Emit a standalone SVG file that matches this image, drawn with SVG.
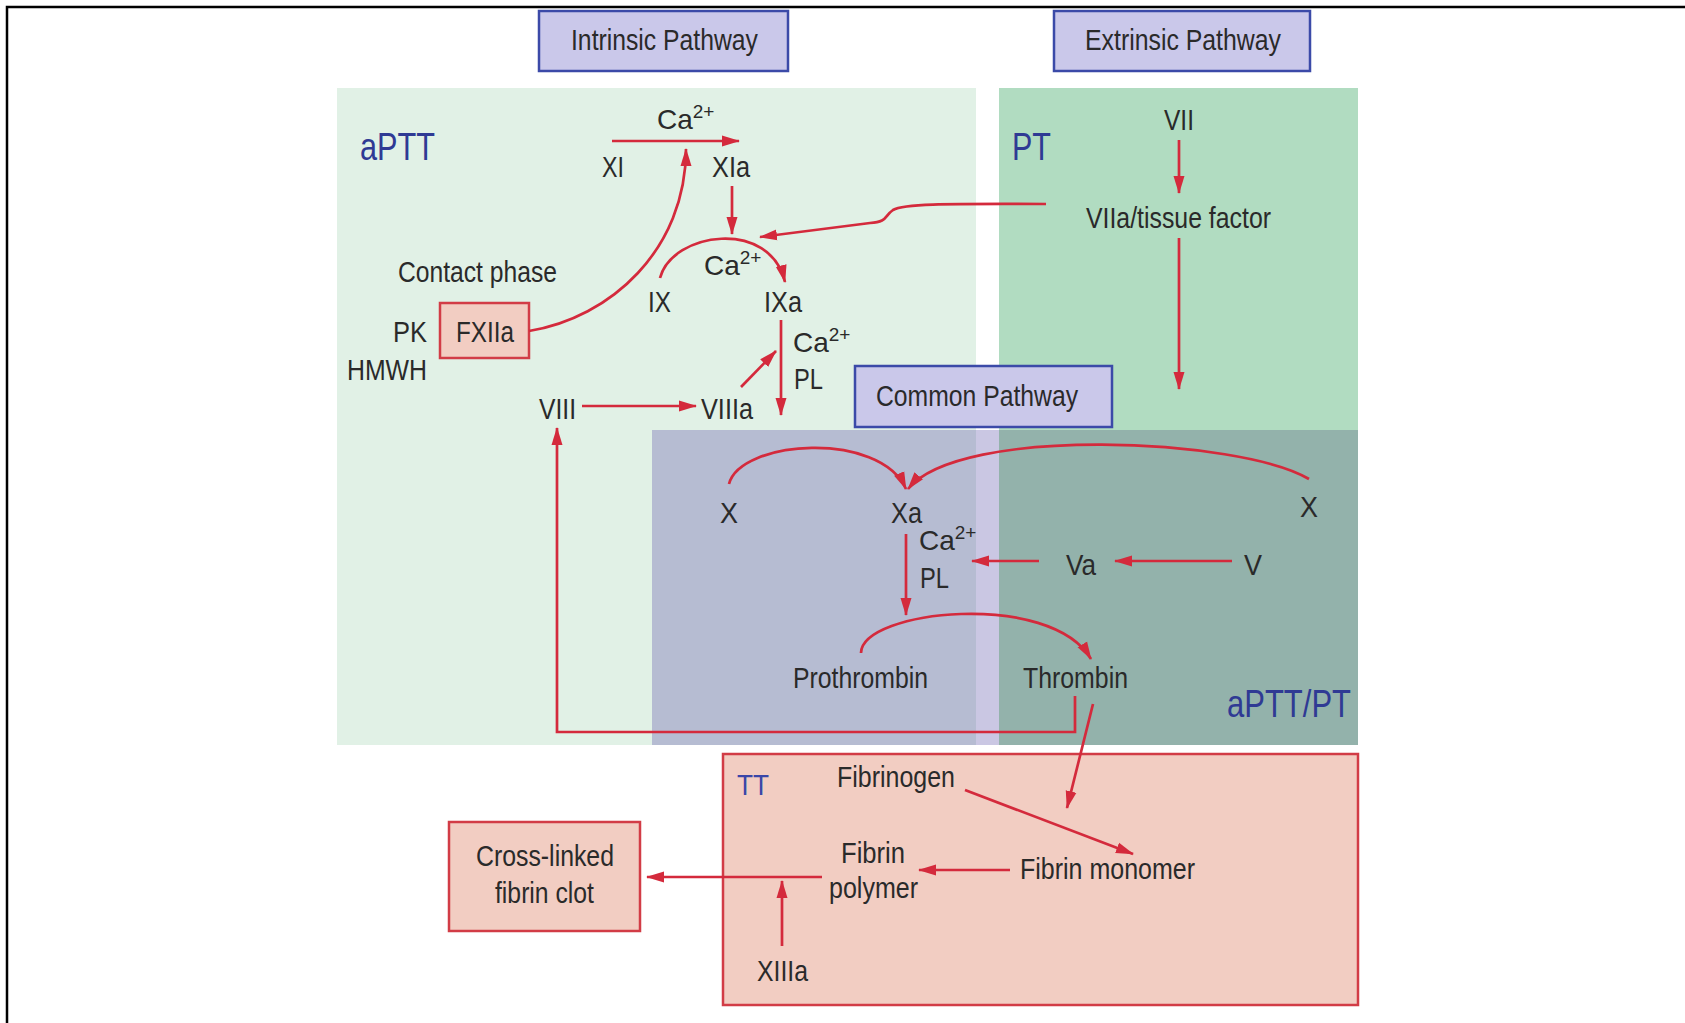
<svg xmlns="http://www.w3.org/2000/svg" width="1685" height="1023" viewBox="0 0 1685 1023">
<defs>
<marker id="ah" markerUnits="userSpaceOnUse" markerWidth="18" markerHeight="12" refX="17" refY="6" orient="auto">
<path d="M0,0.5 L18,6 L0,11.5 z" fill="#d42a3c"/>
</marker>
<style>
text{font-family:"Liberation Sans",Arial,sans-serif;font-size:30px;fill:#2a2a2a}
.ca{font-size:28px}
.blue{fill:#2f3a94;font-size:38px}
.tt{fill:#3a46a8;font-size:29px}
.sup{font-size:19px}
.path{fill:#cac8ea;stroke:#3b4aa8;stroke-width:2.5}
.pink{fill:#f2cdc2;stroke:#d23c46;stroke-width:2.5}
.con path{fill:none;stroke:#d42a3c;stroke-width:2.7;marker-end:url(#ah)}
</style>
</defs>
<rect width="1685" height="1023" fill="#fff"/>
<path d="M7,1023 L7,7 L1685,7" fill="none" stroke="#000" stroke-width="2.5"/>

<g id="regions">
<rect id="region-aptt" x="337" y="88" width="639" height="657" fill="#e1f1e6"/>
<rect id="region-pt" x="999" y="88" width="359" height="342" fill="#b1dcc1"/>
<rect id="region-common-left" x="652" y="430" width="324" height="315" fill="#b6bcd2"/>
<rect id="region-common-mid" x="976" y="430" width="23" height="315" fill="#cac7e3"/>
<rect id="region-common-right" x="999" y="430" width="359" height="315" fill="#93b2ab"/>
</g>

<g id="tt-box"><rect class="pink" x="723" y="754" width="635" height="251"/>
<text class="tt" x="737" y="795" textLength="32" lengthAdjust="spacingAndGlyphs">TT</text></g>

<g id="intrinsic"><rect class="path" x="539" y="11" width="249" height="60"/>
<text x="571" y="50" textLength="187" lengthAdjust="spacingAndGlyphs">Intrinsic Pathway</text></g>
<g id="extrinsic"><rect class="path" x="1054" y="11" width="256" height="60"/>
<text x="1085" y="50" textLength="196" lengthAdjust="spacingAndGlyphs">Extrinsic Pathway</text></g>
<g id="common"><rect class="path" x="855" y="366" width="257" height="61"/>
<text x="876" y="406" textLength="202" lengthAdjust="spacingAndGlyphs">Common Pathway</text></g>

<g id="label-aptt"><text class="blue" x="360" y="160" textLength="75" lengthAdjust="spacingAndGlyphs">aPTT</text></g>
<g id="label-pt"><text class="blue" x="1012" y="160" textLength="39" lengthAdjust="spacingAndGlyphs">PT</text></g>
<g id="label-apttpt"><text class="blue" x="1227" y="717" textLength="124" lengthAdjust="spacingAndGlyphs">aPTT/PT</text></g>

<g id="fxiia"><rect class="pink" x="440" y="303" width="89" height="55"/>
<text x="456" y="342" textLength="58" lengthAdjust="spacingAndGlyphs">FXIIa</text></g>
<g id="contact"><text x="398" y="282" textLength="159" lengthAdjust="spacingAndGlyphs">Contact phase</text></g>
<g id="pk"><text x="393" y="342" textLength="34" lengthAdjust="spacingAndGlyphs">PK</text></g>
<g id="hmwh"><text x="347" y="380" textLength="80" lengthAdjust="spacingAndGlyphs">HMWH</text></g>

<g id="ca1"><text class="ca" x="657" y="129">Ca<tspan class="sup" dy="-11">2+</tspan></text></g>
<g id="xi"><text x="602" y="177" textLength="22" lengthAdjust="spacingAndGlyphs">XI</text></g>
<g id="xia"><text x="712" y="177" textLength="38" lengthAdjust="spacingAndGlyphs">XIa</text></g>
<g id="ca2"><text class="ca" x="704" y="275">Ca<tspan class="sup" dy="-11">2+</tspan></text></g>
<g id="ix"><text x="648" y="312" textLength="23" lengthAdjust="spacingAndGlyphs">IX</text></g>
<g id="ixa"><text x="764" y="312" textLength="38" lengthAdjust="spacingAndGlyphs">IXa</text></g>
<g id="ca3"><text class="ca" x="793" y="352">Ca<tspan class="sup" dy="-11">2+</tspan></text></g>
<g id="pl1"><text x="794" y="389" textLength="29" lengthAdjust="spacingAndGlyphs">PL</text></g>
<g id="viii"><text x="539" y="419" textLength="37" lengthAdjust="spacingAndGlyphs">VIII</text></g>
<g id="viiia"><text x="701" y="419" textLength="52" lengthAdjust="spacingAndGlyphs">VIIIa</text></g>

<g id="vii"><text x="1164" y="130" textLength="30" lengthAdjust="spacingAndGlyphs">VII</text></g>
<g id="viia"><text x="1086" y="228" textLength="185" lengthAdjust="spacingAndGlyphs">VIIa/tissue factor</text></g>

<g id="x1"><text x="720" y="523" textLength="18" lengthAdjust="spacingAndGlyphs">X</text></g>
<g id="xa"><text x="891" y="523" textLength="31" lengthAdjust="spacingAndGlyphs">Xa</text></g>
<g id="x2"><text x="1300" y="517" textLength="18" lengthAdjust="spacingAndGlyphs">X</text></g>
<g id="ca4"><text class="ca" x="919" y="550">Ca<tspan class="sup" dy="-11">2+</tspan></text></g>
<g id="pl2"><text x="920" y="588" textLength="29" lengthAdjust="spacingAndGlyphs">PL</text></g>
<g id="va"><text x="1066" y="575" textLength="30" lengthAdjust="spacingAndGlyphs">Va</text></g>
<g id="v"><text x="1244" y="575" textLength="18" lengthAdjust="spacingAndGlyphs">V</text></g>
<g id="prothrombin"><text x="793" y="688" textLength="135" lengthAdjust="spacingAndGlyphs">Prothrombin</text></g>
<g id="thrombin"><text x="1023" y="688" textLength="105" lengthAdjust="spacingAndGlyphs">Thrombin</text></g>

<g id="fibrinogen"><text x="837" y="787" textLength="118" lengthAdjust="spacingAndGlyphs">Fibrinogen</text></g>
<g id="monomer"><text x="1020" y="879" textLength="175" lengthAdjust="spacingAndGlyphs">Fibrin monomer</text></g>
<g id="polymer"><text x="841" y="863" textLength="64" lengthAdjust="spacingAndGlyphs">Fibrin</text>
<text x="829" y="898" textLength="89" lengthAdjust="spacingAndGlyphs">polymer</text></g>
<g id="xiiia"><text x="757" y="981" textLength="51" lengthAdjust="spacingAndGlyphs">XIIIa</text></g>
<g id="clot"><rect class="pink" x="449" y="822" width="191" height="109"/>
<text x="476" y="866" textLength="138" lengthAdjust="spacingAndGlyphs">Cross-linked</text>
<text x="495" y="903" textLength="99" lengthAdjust="spacingAndGlyphs">fibrin clot</text></g>

<g id="connectors" class="con">
<path d="M529,331 C610,318 686,250 686,149"/>
<path d="M612,141 L739,141"/>
<path d="M732,186 L732,234"/>
<path d="M660,278 C672,232 770,218 785,282"/>
<path d="M1046,204 C960,204 905,203 893,210 C884,216 888,222 870,223 L760,237"/>
<path d="M781,320 L781,415"/>
<path d="M741,387 L776,351"/>
<path d="M582,406 L696,406"/>
<path d="M1179,140 L1179,193"/>
<path d="M1179,238 L1179,389"/>
<path d="M729,484 C740,440 880,430 906,489"/>
<path d="M1309,479 C1240,438 960,425 908,489"/>
<path d="M906,534 L906,615"/>
<path d="M1039,561 L972,561"/>
<path d="M1232,561 L1115,561"/>
<path d="M861,653 C862,610 1050,590 1091,659"/>
<path d="M1075,696 L1075,732 L557,732 L557,428"/>
<path d="M1093,704 L1067,808"/>
<path d="M965,790 L1133,854"/>
<path d="M1010,870 L919,870"/>
<path d="M822,877 L647,877"/>
<path d="M782,946 L782,881"/>
</g>
</svg>
